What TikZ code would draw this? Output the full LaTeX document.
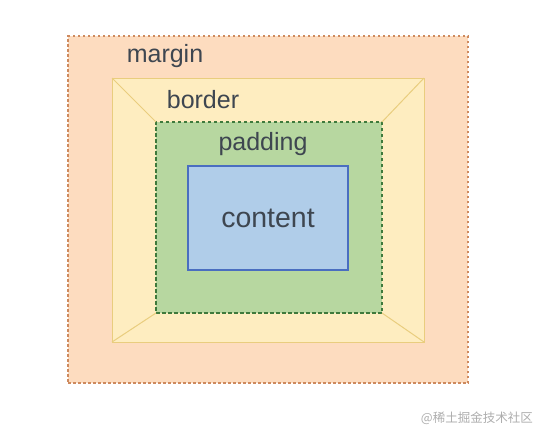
\documentclass[tikz,border=0pt]{standalone}
\usepackage{fontspec}
\setmainfont{Liberation Sans}
\newfontfamily\cjkfont{Noto Sans CJK SC}
\usetikzlibrary{positioning}
\definecolor{marginfill}{HTML}{FDDCBF}
\definecolor{marginline}{HTML}{CE8A5E}
\definecolor{borderfill}{HTML}{FEEDC0}
\definecolor{borderline}{HTML}{E9CD7E}
\definecolor{paddingfill}{HTML}{B7D7A0}
\definecolor{paddingline}{HTML}{3F7A3C}
\definecolor{contentfill}{HTML}{B0CDE9}
\definecolor{contentline}{HTML}{4A6EC0}
\definecolor{labeltext}{HTML}{3E4650}
\begin{document}
\begin{tikzpicture}[x=1pt, y=-1pt,
    box/.style={rectangle, inner sep=0pt, outer sep=0pt},
    lbl/.style={text=labeltext, font=\fontsize{25}{30}\selectfont, inner sep=0pt},
    diag/.style={borderline, line width=1pt}
]
    \useasboundingbox (0,0) rectangle (536,440);

    % Boxes, outside in
    \node[box, fill=marginfill, draw=marginline, line width=1.4pt, dash pattern=on 2.5pt off 2.5pt,
          minimum width=400pt, minimum height=347pt] (margin) at (268,209.5) {};
    \node[box, fill=borderfill, draw=borderline, line width=1pt,
          minimum width=312pt, minimum height=264pt] (border) at (268,210) {};
    \node[box, fill=paddingfill, draw=paddingline, line width=1.4pt, dash pattern=on 3.5pt off 2.5pt,
          minimum width=226pt, minimum height=191pt] (padding) at (269,217.5) {};

    % Border corners
    \draw[diag] (border.north west) -- (padding.north west);
    \draw[diag] (border.north east) -- (padding.north east);
    \draw[diag] (border.south west) -- (padding.south west);
    \draw[diag] (border.south east) -- (padding.south east);

    \node[box, fill=contentfill, draw=contentline, line width=1.3pt,
          minimum width=160pt, minimum height=104pt] (content) at (268,218) {};

    % Labels
    \node[lbl] (marginlbl) at (165,56) {margin};
    \node[lbl] (borderlbl) at (203,100) {border};
    \node[lbl] (paddinglbl) at (263,144) {padding};
    \node[lbl, font=\fontsize{28.5}{34}\selectfont] (contentlbl) at (content.center) {content};

    % Watermark
    \node[text=black!32, font=\cjkfont\fontsize{12.5}{15}\selectfont, anchor=east, inner sep=0pt] (mark) at (533,418) {@稀土掘金技术社区};
\end{tikzpicture}
\end{document}
